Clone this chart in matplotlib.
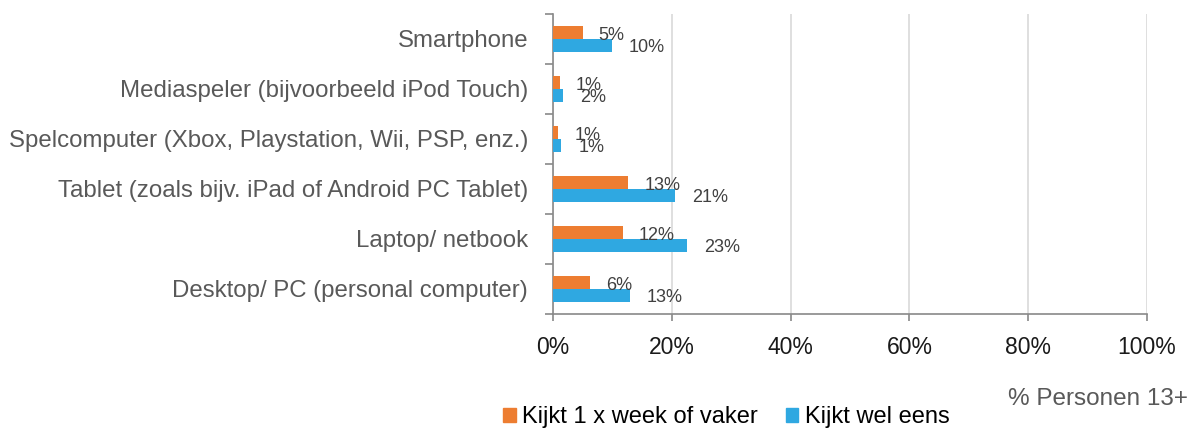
import numpy as np
import matplotlib
matplotlib.use("Agg")
import matplotlib.pyplot as plt
from matplotlib.patches import Patch

plt.rcParams['font.family'] = ['Liberation Sans', 'DejaVu Sans']

# categorieën van onder naar boven
categorieen = [
    "Desktop/ PC (personal computer)",
    "Laptop/ netbook",
    "Tablet (zoals bijv. iPad of Android PC Tablet)",
    "Spelcomputer (Xbox, Playstation, Wii, PSP, enz.)",
    "Mediaspeler (bijvoorbeeld iPod Touch)",
    "Smartphone",
]
wekelijks = [6.3, 11.7, 12.7, 0.9, 1.1, 5.0]
wel_eens = [12.9, 22.6, 20.5, 1.4, 1.7, 9.9]
labels_wekelijks = ["6%", "12%", "13%", "1%", "1%", "5%"]
labels_wel_eens = ["13%", "23%", "21%", "1%", "2%", "10%"]
x_ticks = [0, 20, 40, 60, 80, 100]
x_ticklabels = ["0%", "20%", "40%", "60%", "80%", "100%"]
reeksen = ["Kijkt 1 x week of vaker", "Kijkt wel eens"]

oranje = "#ED7D31"
blauw = "#2FA8E1"

fig = plt.figure(figsize=(11.95, 4.28), dpi=100)
ax = fig.add_axes([0.4628, 0.2664, 0.4970, 0.7009])

y = np.arange(len(categorieen))
h = 0.26
ax.barh(y + h / 2, wekelijks, height=h, color=oranje, zorder=3)
ax.barh(y - h / 2, wel_eens, height=h, color=blauw, zorder=3)

for yi, v, t in zip(y, wekelijks, labels_wekelijks):
    ax.annotate(t, (v, yi + h / 2), xytext=(16, -3), textcoords="offset pixels",
                ha="left", va="center", fontsize=13, color="#404040", zorder=4)
for yi, v, t in zip(y, wel_eens, labels_wel_eens):
    ax.annotate(t, (v, yi - h / 2), xytext=(17, -2), textcoords="offset pixels",
                ha="left", va="center", fontsize=13, color="#404040", zorder=4)

ax.set_xlim(0, 100)
ax.set_ylim(-0.5, len(categorieen) - 0.5)
ax.set_xticks(x_ticks)
ax.set_xticklabels(x_ticklabels, fontsize=16.5, color="#1a1a1a")
ax.xaxis.grid(True, color="#D9D9D9", linewidth=1.2, zorder=0)
ax.tick_params(axis="x", length=5, width=1.2, color="#898989", pad=10.5)

ax.set_yticks(y)
ax.set_yticklabels(categorieen, fontsize=17.3, color="#595959")
ax.set_yticks(np.arange(-0.5, len(categorieen)), minor=True)
ax.tick_params(axis="y", which="major", length=0, pad=18)
ax.tick_params(axis="y", which="minor", length=6, width=1.2, color="#898989")

for s in ["top", "right"]:
    ax.spines[s].set_visible(False)
for s in ["left", "bottom"]:
    ax.spines[s].set_color("#898989")
    ax.spines[s].set_linewidth(1.2)

handles = [Patch(color=oranje), Patch(color=blauw)]
fig.legend(handles, reeksen, loc="center", bbox_to_anchor=(0.608, 0.025),
           ncol=2, frameon=False, fontsize=17, handlelength=0.51,
           handleheight=0.51, handletextpad=0.28, columnspacing=1.2,
           borderaxespad=0, borderpad=0)

fig.text(0.9945, 0.068, "% Personen 13+", ha="right", va="center",
         fontsize=17.5, color="#595959")

fig.savefig("out.png", dpi=100)
